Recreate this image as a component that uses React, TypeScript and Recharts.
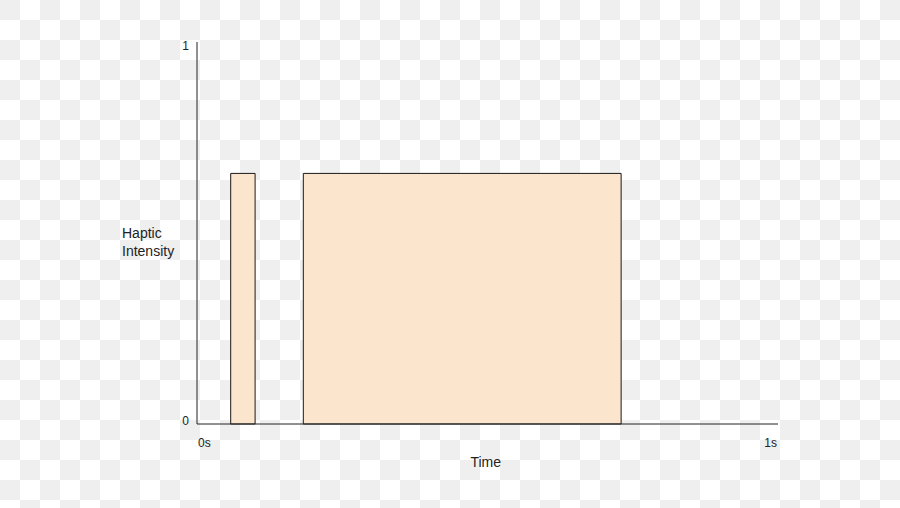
import React from "react";
import { ComposedChart, XAxis, YAxis, ReferenceArea, Label } from "recharts";

// Pulse data (time in seconds, intensity 0..1)
const pulseStarts = [0.058, 0.183];
const pulseEnds = [0.1, 0.73];
const pulseIntensities = [0.656, 0.656];

const xTicks = [0, 1];
const xTickLabels = ["0s", "1s"];
const yTicks = [0, 1];
const yTickLabels = ["0", "1"];

const xTitle = "Time";
const yTitleLines = ["Haptic", "Intensity"];

const FONT = "'Liberation Sans', Arial, sans-serif";
const TEXT_COLOR = "#222";

const chartData = pulseStarts.map((s, i) => ({ t: s, end: pulseEnds[i], v: pulseIntensities[i] }));

const XTick = (props: any) => {
  const { x, y, payload, index } = props;
  const isFirst = index === 0;
  return (
    <text
      x={isFirst ? x + 1 : x - 1}
      y={y + 14.5}
      textAnchor={isFirst ? "start" : "end"}
      fontFamily={FONT}
      fontSize={12}
      fill={TEXT_COLOR}
    >
      {xTickLabels[xTicks.indexOf(payload.value)]}
    </text>
  );
};

const YTick = (props: any) => {
  const { y, payload } = props;
  const isTop = payload.value === 1;
  return (
    <text
      x={189}
      y={isTop ? y + 8 : y + 1}
      textAnchor="end"
      fontFamily={FONT}
      fontSize={12}
      fill={TEXT_COLOR}
    >
      {yTickLabels[yTicks.indexOf(payload.value)]}
    </text>
  );
};

const YTitle = () => (
  <text fontFamily={FONT} fontSize={14} fill={TEXT_COLOR}>
    {yTitleLines.map((line, i) => (
      <tspan key={i} x={122} y={238.3 + i * 18}>
        {line}
      </tspan>
    ))}
  </text>
);

const XTitle = () => (
  <text x={485.7} y={467.3} textAnchor="middle" fontFamily={FONT} fontSize={14} fill={TEXT_COLOR}>
    {xTitle}
  </text>
);

export default function App() {
  return (
    <div
      style={{
        position: "absolute",
        left: 0,
        top: 0,
        width: 900,
        height: 508,
        backgroundColor: "#ffffff",
        backgroundImage: "repeating-conic-gradient(#ffffff 0 25%, #efefef 0 50%)",
        backgroundSize: "40px 40px",
      }}
    >
      <ComposedChart
        width={900}
        height={508}
        data={chartData}
        margin={{ top: 42, right: 122, left: 0, bottom: 0 }}
      >
        <XAxis
          dataKey="t"
          type="number"
          domain={[0, 1]}
          ticks={xTicks}
          tickLine={false}
          axisLine={{ stroke: "#222", strokeWidth: 1 }}
          tick={<XTick />}
          height={84}
          interval={0}
        >
          <Label content={<XTitle />} />
        </XAxis>
        <YAxis
          dataKey="v"
          type="number"
          domain={[0, 1]}
          ticks={yTicks}
          tickLine={false}
          axisLine={{ stroke: "#222", strokeWidth: 1 }}
          tick={<YTick />}
          width={197}
          interval={0}
        >
          <Label content={<YTitle />} />
        </YAxis>
        {pulseStarts.map((s, i) => (
          <ReferenceArea
            key={i}
            x1={s}
            x2={pulseEnds[i]}
            y1={0}
            y2={pulseIntensities[i]}
            fill="#fce5cd"
            fillOpacity={1}
            stroke="#1a1a1a"
            strokeWidth={1}
            strokeOpacity={1}
            ifOverflow="visible"
          />
        ))}
      </ComposedChart>
    </div>
  );
}
